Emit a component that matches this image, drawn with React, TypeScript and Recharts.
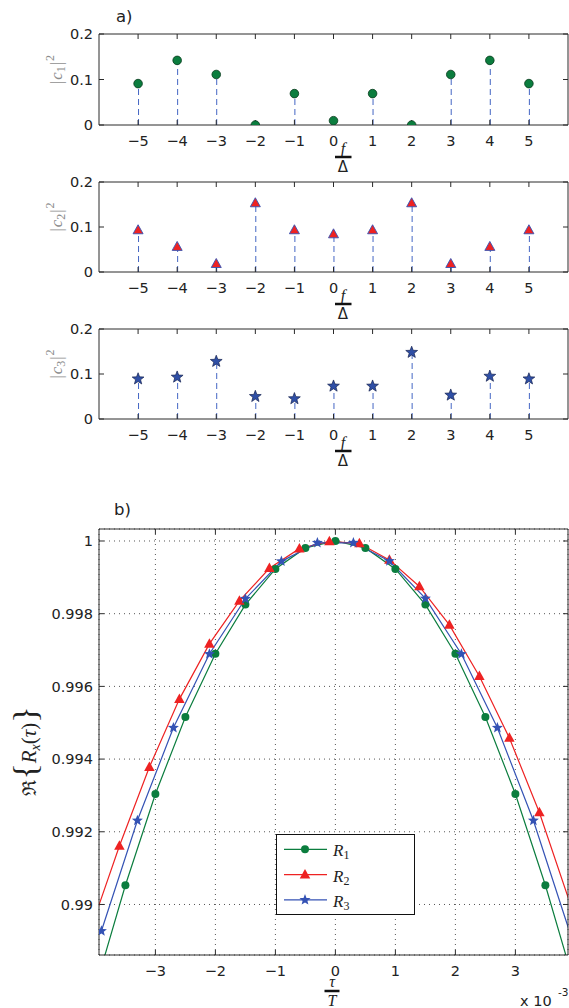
import React from 'react'
import { ComposedChart, LineChart, Line, Bar, XAxis, YAxis, CartesianGrid, Legend } from 'recharts'

// ---- panel a): |c_k|^2 against f/Δ ----
const freqs = [-5, -4, -3, -2, -1, 0, 1, 2, 3, 4, 5]
const c1Power = [0.091, 0.142, 0.111, 0, 0.069, 0.0095, 0.069, 0, 0.111, 0.142, 0.091]
const c2Power = [0.093, 0.056, 0.018, 0.153, 0.093, 0.084, 0.093, 0.153, 0.018, 0.056, 0.093]
const c3Power = [0.089, 0.093, 0.128, 0.05, 0.045, 0.073, 0.073, 0.148, 0.053, 0.095, 0.089]
const stemYTicks = [0, 0.1, 0.2]

// ---- panel b): Re{R_x(tau)} against tau/T (x 10^-3) ----
const tauR1 = [-4.0, -3.5, -3.0, -2.5, -2.0, -1.5, -1.0, -0.5, 0, 0.5, 1.0, 1.5, 2.0, 2.5, 3.0, 3.5, 4.0]
const r1 = [0.98771, 0.99053, 0.99304, 0.99516, 0.9969, 0.99825, 0.99923, 0.99981, 1.0, 0.99981, 0.99923, 0.99825, 0.9969, 0.99516, 0.99304, 0.99053, 0.98771]
const tauR2 = [-4.1, -3.6, -3.1, -2.6, -2.1, -1.6, -1.1, -0.6, -0.1, 0.4, 0.9, 1.4, 1.9, 2.4, 2.9, 3.4, 3.9]
const r2 = [0.98922, 0.99161, 0.99378, 0.99565, 0.99717, 0.99835, 0.99925, 0.99979, 0.99999, 0.99993, 0.99948, 0.99875, 0.99769, 0.99628, 0.99458, 0.99253, 0.99009]
const tauR3 = [-3.9, -3.3, -2.7, -2.1, -1.5, -0.9, -0.3, 0.3, 0.9, 1.5, 2.1, 2.7, 3.3, 3.9]
const r3 = [0.98927, 0.99231, 0.99486, 0.99689, 0.99841, 0.99944, 0.99995, 0.99995, 0.99945, 0.99842, 0.99689, 0.99486, 0.99231, 0.98927]
const tauTicks = [-3, -2, -1, 0, 1, 2, 3]
const rTicks = [0.99, 0.992, 0.994, 0.996, 0.998, 1]
const legendSubs = ['1', '2', '3']

const X_MIN = -3.94
const X_MAX = 3.877
const Y_MIN = 0.98861
const Y_MAX = 1.00033

const GREEN = '#0b7d3e'
const RED = '#ee2222'
const BLUE = '#3452b4'
const AXIS = '#2a2a2a'
const tickFont = { fill: '#222', fontSize: 14.5, fontFamily: 'DejaVu Sans' }

const fmtMinus = (v: number) => (v < 0 ? '\u2212' + Math.abs(v) : String(v))
const blank = () => ''

const starPoints = (cx: number, cy: number, ro: number, ri: number) =>
  Array.from({ length: 10 }, (_, k) => {
    const a = -Math.PI / 2 + (k * Math.PI) / 5
    const r = k % 2 ? ri : ro
    return `${cx + r * Math.cos(a)},${cy + r * Math.sin(a)}`
  }).join(' ')

const triPoints = (cx: number, cy: number, w: number, h: number) =>
  `${cx},${cy - h * 0.6} ${cx - w / 2},${cy + h * 0.4} ${cx + w / 2},${cy + h * 0.4}`

// markers
const drawMarker = (kind: string, cx: number, cy: number, big: boolean) => {
  if (kind === 'circle')
    return big
      ? <circle cx={cx} cy={cy} r={4} fill={GREEN} />
      : <circle cx={cx} cy={cy} r={4.3} fill={GREEN} stroke="#073a1c" strokeWidth={0.8} />
  if (kind === 'triangle')
    return big
      ? <polygon points={triPoints(cx, cy, 10.5, 9.5)} fill={RED} />
      : <polygon points={triPoints(cx, cy, 10, 9)} fill={RED} stroke={BLUE} strokeWidth={0.9} />
  return big
    ? <polygon points={starPoints(cx, cy, 5.8, 2.5)} fill={BLUE} />
    : <polygon points={starPoints(cx, cy, 6.2, 2.6)} fill="#2f4fa6" stroke="#152250" strokeWidth={0.7} />
}

const stemDot = (kind: string) => (p: any) => {
  if (p.cx == null || p.cy == null) return <g key={`s${p.index}`} />
  return <g key={`s${p.index}`}>{drawMarker(kind, p.cx, p.cy, false)}</g>
}

const curveDot = (kind: string) => (p: any) => {
  const t = p.payload?.t
  const v = p.payload?.v
  const inside = t >= X_MIN && t <= X_MAX && v >= Y_MIN && v <= Y_MAX
  if (!inside || p.cx == null) return <g key={`c${p.index}`} />
  return <g key={`c${p.index}`}>{drawMarker(kind, p.cx, p.cy, true)}</g>
}

const Stem = (p: any) => {
  const x = p.x + p.width / 2
  return (
    <line x1={x} x2={x} y1={p.y + p.height} y2={p.y} stroke="#4466c4" strokeWidth={1} strokeDasharray="6 4" />
  )
}

const FracLabel = (props: any) => {
  const y0 = props.viewBox?.y ?? 0
  return (
    <g>
      <text x={343} y={y0 + 29} textAnchor="middle" fontFamily="Liberation Serif" fontStyle="italic" fontSize={16} fill="#222">f</text>
      <line x1={335} x2={351.5} y1={y0 + 32} y2={y0 + 32} stroke="#111" strokeWidth={2.5} />
      <text x={343} y={y0 + 47} textAnchor="middle" fontFamily="DejaVu Sans" fontSize={15} fill="#222">Δ</text>
    </g>
  )
}

const PowerLabel = (idx: string) => (props: any) => {
  const vb = props.viewBox ?? { y: 0, height: 0 }
  const cy = vb.y + vb.height / 2 - 10
  return (
    <text transform={`translate(62, ${cy}) rotate(-90)`} textAnchor="middle" fill="#8c8c8c" fontFamily="Liberation Serif" fontSize={16.5}>
      |<tspan fontStyle="italic" dx={1}>c</tspan>
      <tspan fontSize={12} dy={3}>{idx}</tspan>
      <tspan dy={-3} dx={1}>|</tspan>
      <tspan fontSize={12} dy={-8} dx={1}>2</tspan>
    </text>
  )
}

const PanelTag = (tag: string, x: number, y: number) => () => (
  <text x={x} y={y} fontFamily="DejaVu Sans" fontSize={16.5} fill="#222">{tag}</text>
)

interface StemProps {
  top: number
  marginTop: number
  plotH: number
  values: number[]
  idx: string
  kind: string
  tag?: boolean
}

const StemPanel = ({ top, marginTop, plotH, values, idx, kind, tag }: StemProps) => {
  const rows = freqs.map((f, i) => ({ f, p: values[i] }))
  const bottomH = 52
  return (
    <div style={{ position: 'absolute', left: 0, top }}>
      <ComposedChart width={569} height={marginTop + 1 + plotH + bottomH} data={rows} margin={{ top: marginTop, right: 0, bottom: 0, left: 0 }}>
        <XAxis xAxisId="top" orientation="top" type="number" dataKey="f" domain={[-6, 6]} ticks={freqs} interval={0}
          allowDataOverflow height={1} tickSize={-5} tickFormatter={blank} stroke={AXIS}
          label={tag ? PanelTag('a)', 116, 22) : undefined} />
        <XAxis type="number" dataKey="f" domain={[-6, 6]} ticks={freqs} interval={0} allowDataOverflow height={bottomH}
          tickSize={-5} tickMargin={16} tickFormatter={fmtMinus} tick={tickFont} stroke={AXIS} label={FracLabel} />
        <YAxis type="number" domain={[0, 0.2]} ticks={stemYTicks} interval={0} allowDataOverflow width={99}
          tickSize={-5} tickMargin={11} tick={tickFont} stroke={AXIS} label={PowerLabel(idx)} />
        <YAxis yAxisId="right" orientation="right" type="number" domain={[0, 0.2]} ticks={stemYTicks} interval={0}
          allowDataOverflow width={1} tickSize={-5} tickFormatter={blank} stroke={AXIS} />
        <Bar dataKey="p" barSize={2} shape={Stem} isAnimationActive={false} />
        <Line dataKey="p" stroke="none" dot={stemDot(kind)} activeDot={false} isAnimationActive={false} />
      </ComposedChart>
    </div>
  )
}

const TauLabel = () => (
  <g fill="#222">
    <text x={332} y={506.5} textAnchor="middle" fontFamily="Liberation Serif" fontStyle="italic" fontSize={16}>τ</text>
    <line x1={324.5} x2={339.5} y1={511} y2={511} stroke="#111" strokeWidth={2.5} />
    <text x={332} y={525.5} textAnchor="middle" fontFamily="Liberation Serif" fontStyle="italic" fontSize={16}>T</text>
    <text x={520} y={526} fontFamily="DejaVu Sans" fontSize={14.5}>x 10</text>
    <text x={558} y={516} fontFamily="DejaVu Sans" fontSize={10.5}>-3</text>
  </g>
)

const CorrLabel = () => (
  <text transform="translate(36, 271) rotate(-90)" textAnchor="middle" fill="#222" fontFamily="Liberation Serif" fontSize={21}>
    <tspan fontFamily="DejaVu Serif" fontSize={19}>ℜ</tspan>
    <tspan fontSize={34}>{'{'}</tspan>
    <tspan fontStyle="italic">R</tspan>
    <tspan fontStyle="italic" fontSize={14} dy={4}>x</tspan>
    <tspan dy={-4}>(</tspan>
    <tspan fontStyle="italic">τ</tspan>
    <tspan>)</tspan>
    <tspan fontSize={34}>{'}'}</tspan>
  </text>
)

const legendKinds = ['circle', 'triangle', 'star']
const legendColors = [GREEN, RED, BLUE]

const LegendBox = () => (
  <svg width={139} height={81} style={{ display: 'block' }}>
    <rect x={0.5} y={0.5} width={138} height={80} fill="#fff" stroke="#111" strokeWidth={1} />
    {legendSubs.map((s, i) => {
      const y = 15.3 + i * 25.3
      return (
        <g key={s}>
          <line x1={8} x2={51} y1={y} y2={y} stroke={legendColors[i]} strokeWidth={1.2} />
          {drawMarker(legendKinds[i], 29, y, true)}
          <text x={57} y={y + 7} fontFamily="Liberation Serif" fontStyle="italic" fontSize={17} fill="#222">
            R<tspan fontStyle="normal" fontSize={12} dy={3}>{s}</tspan>
          </text>
        </g>
      )
    })}
  </svg>
)

const toRows = (ts: number[], vs: number[]) => ts.map((t, i) => ({ t, v: vs[i] }))

const CorrChart = () => (
  <div style={{ position: 'absolute', left: 0, top: 480 }}>
    <LineChart width={569} height={528} margin={{ top: 48, right: 0, bottom: 0, left: 0 }}>
      <CartesianGrid stroke="#555" strokeDasharray="1 4" />
      <XAxis xAxisId="top" orientation="top" type="number" dataKey="t" domain={[X_MIN, X_MAX]} ticks={tauTicks} interval={0}
        allowDataOverflow height={1} tickSize={-5} tickFormatter={blank} stroke={AXIS} label={PanelTag('b)', 114, 35)} />
      <XAxis type="number" dataKey="t" domain={[X_MIN, X_MAX]} ticks={tauTicks} interval={0} allowDataOverflow height={53}
        tickSize={-5} tickMargin={16} tickFormatter={fmtMinus} tick={tickFont} stroke={AXIS} label={TauLabel} />
      <YAxis type="number" domain={[Y_MIN, Y_MAX]} ticks={rTicks} interval={0} allowDataOverflow width={99}
        tickSize={-5} tickMargin={11} tick={tickFont} stroke={AXIS} label={CorrLabel} />
      <YAxis yAxisId="right" orientation="right" type="number" domain={[Y_MIN, Y_MAX]} ticks={rTicks} interval={0}
        allowDataOverflow width={1} tickSize={-5} tickFormatter={blank} stroke={AXIS} />
      <Line data={toRows(tauR1, r1)} dataKey="v" name="R1" type="linear" stroke={GREEN} strokeWidth={1.2}
        dot={curveDot('circle')} activeDot={false} isAnimationActive={false} />
      <Line data={toRows(tauR2, r2)} dataKey="v" name="R2" type="linear" stroke={RED} strokeWidth={1.2}
        dot={curveDot('triangle')} activeDot={false} isAnimationActive={false} />
      <Line data={toRows(tauR3, r3)} dataKey="v" name="R3" type="linear" stroke={BLUE} strokeWidth={1.2}
        dot={curveDot('star')} activeDot={false} isAnimationActive={false} />
      <Legend content={LegendBox} layout="vertical" align="center" verticalAlign="middle"
        wrapperStyle={{ position: 'absolute', left: 276, top: 354, width: 139, height: 81 }} />
    </LineChart>
  </div>
)

export default function App() {
  return (
    <div style={{ position: 'absolute', left: 0, top: 0, width: 569, height: 1008, background: '#fff', overflow: 'hidden' }}>
      <StemPanel top={0} marginTop={33} plotH={91} values={c1Power} idx="1" kind="circle" tag />
      <StemPanel top={150} marginTop={31} plotH={90} values={c2Power} idx="2" kind="triangle" />
      <StemPanel top={300} marginTop={28} plotH={90} values={c3Power} idx="3" kind="star" />
      <CorrChart />
    </div>
  )
}
